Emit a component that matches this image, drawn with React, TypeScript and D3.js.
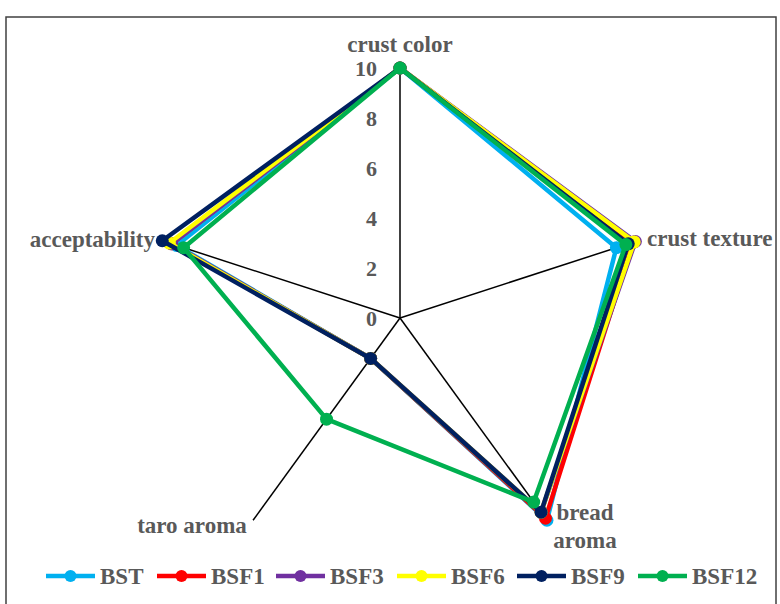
import React from "react";
import * as d3 from "d3";

const categories = ["crust color", "crust texture", "bread aroma", "taro aroma", "acceptability"];
const ticks = [0, 2, 4, 6, 8, 10];
const seriesNames = ["BST", "BSF1", "BSF3", "BSF6", "BSF9", "BSF12"];
const BST = [10, 9.1, 10, 2, 9.4];
const BSF1 = [10, 9.8, 9.9, 2, 9.6];
const BSF3 = [10, 9.9, 9.6, 2, 9.6];
const BSF6 = [10, 9.85, 9.6, 2, 9.7];
const BSF9 = [10, 9.6, 9.6, 2, 10];
const BSF12 = [10, 9.5, 9.1, 5, 9.1];
const colors = ["#00B0F0", "#FF0000", "#7030A0", "#FFFF00", "#002060", "#00B050"];

const seriesValues = [BST, BSF1, BSF3, BSF6, BSF9, BSF12];

export default function App() {
  const W = 780, H = 604;
  const cx = 400, cy = 318;
  const R = 250;
  const r = d3.scaleLinear().domain([0, 10]).range([0, R]);
  const angle = d3.scaleLinear().domain([0, categories.length]).range([0, 2 * Math.PI]);
  const pt = (i: number, v: number): [number, number] => {
    const a = angle(i);
    return [cx + r(v) * Math.sin(a), cy - r(v) * Math.cos(a)];
  };
  const line = d3
    .lineRadial<number>()
    .angle((_, i) => angle(i))
    .radius((d) => r(d))
    .curve(d3.curveLinearClosed);

  const font = "'Liberation Serif', 'Times New Roman', serif";
  const textColor = "#595959";

  const labelPos = [
    { x: 400, y: 52, anchor: "middle", lines: ["crust color"] },
    { x: 647, y: 246, anchor: "start", lines: ["crust texture"] },
    { x: 585, y: 520, anchor: "middle", lines: ["bread", "aroma"] },
    { x: 192, y: 533, anchor: "middle", lines: ["taro aroma"] },
    { x: 155, y: 247, anchor: "end", lines: ["acceptability"] },
  ];

  const legendX = [46, 157, 276, 397, 517, 638];
  const legendY = 576;

  return (
    <div style={{ position: "absolute", left: 0, top: 0 }}>
      <svg width={W} height={H} style={{ display: "block", background: "#fff" }}>
        <rect x={6} y={17} width={770} height={620} fill="#fff" stroke="#404040" strokeWidth={1.5} />
        {categories.map((c, i) => {
          const [x, y] = pt(i, 10);
          return <line key={c} x1={cx} y1={cy} x2={x} y2={y} stroke="#000" strokeWidth={1.5} />;
        })}
        {ticks.map((t) => (
          <text
            key={t}
            x={377}
            y={cy - r(t) + 8}
            textAnchor="end"
            fontFamily={font}
            fontWeight="bold"
            fontSize={22}
            fill={textColor}
          >
            {t}
          </text>
        ))}
        {seriesValues.map((vals, s) => (
          <g key={seriesNames[s]} transform={`translate(${cx},${cy})`}>
            <path d={line(vals) || ""} fill="none" stroke={colors[s]} strokeWidth={4.5} strokeLinejoin="round" />
            {vals.map((v, i) => {
              const a = angle(i);
              return (
                <circle key={i} cx={r(v) * Math.sin(a)} cy={-r(v) * Math.cos(a)} r={6.5} fill={colors[s]} />
              );
            })}
          </g>
        ))}
        {categories.map((c, i) => {
          const lp = labelPos[i];
          return (
            <text
              key={c}
              x={lp.x}
              y={lp.y}
              textAnchor={lp.anchor as any}
              fontFamily={font}
              fontWeight="bold"
              fontSize={23}
              fill={textColor}
            >
              {lp.lines.map((l, k) => (
                <tspan key={k} x={lp.x} dy={k === 0 ? 0 : 28}>
                  {l}
                </tspan>
              ))}
            </text>
          );
        })}
        {seriesNames.map((n, s) => (
          <g key={n} transform={`translate(${legendX[s]},${legendY})`}>
            <line x1={0} y1={0} x2={49} y2={0} stroke={colors[s]} strokeWidth={4.5} />
            <circle cx={24.5} cy={0} r={6} fill={colors[s]} />
            <text
              x={54}
              y={8}
              fontFamily={font}
              fontWeight="bold"
              fontSize={23}
              fill={textColor}
            >
              {n}
            </text>
          </g>
        ))}
      </svg>
    </div>
  );
}
